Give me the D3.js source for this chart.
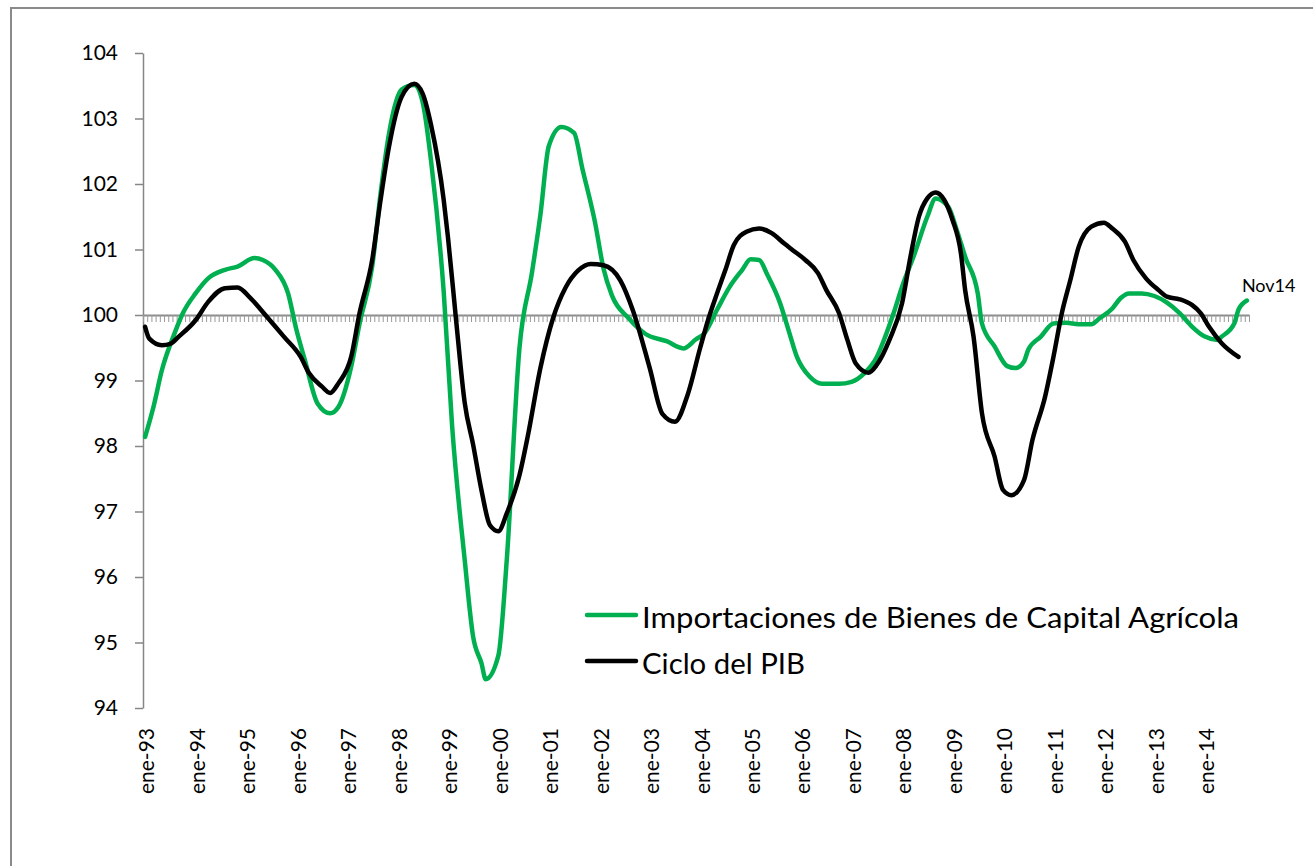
<!DOCTYPE html>
<html>
<head>
<meta charset="utf-8">
<script src="https://cdn.jsdelivr.net/npm/d3@7"></script>
<style>
  html, body { margin: 0; padding: 0; background: #fff; }
  svg { display: block; font-family: Lato, "Open Sans", sans-serif; }
</style>
</head>
<body>
<svg id="chart" width="1313" height="866"></svg>
<script>
// series (month, value)
const importMonths = [
  "1993-01","1993-03","1993-05","1993-08","1993-10","1994-01","1994-04","1994-08","1994-11",
  "1995-03","1995-05","1995-08","1995-11","1996-01","1996-03","1996-06","1996-09","1996-11",
  "1997-02","1997-04","1997-07","1997-09","1997-11","1998-02","1998-05","1998-07","1998-09",
  "1998-12","1999-02","1999-05","1999-07","1999-09","1999-10","2000-01","2000-03","2000-06",
  "2000-09","2000-11","2001-01","2001-04","2001-07","2001-09","2001-12","2002-02","2002-04",
  "2002-08","2002-12","2003-05","2003-09","2003-12","2004-02","2004-05","2004-08","2004-11",
  "2005-01","2005-03","2005-05","2005-08","2005-10","2005-12","2006-03","2006-06","2006-10",
  "2007-01","2007-04","2007-07","2007-09","2007-11","2008-01","2008-04","2008-07","2008-09",
  "2008-12","2009-02","2009-04","2009-07","2009-08","2009-11","2010-02","2010-04","2010-06",
  "2010-07","2010-10","2011-01","2011-04","2011-07","2011-10","2011-12","2012-03","2012-05",
  "2012-07","2012-10","2013-01","2013-04","2013-07","2013-10","2014-01","2014-04","2014-05",
  "2014-08","2014-09","2014-11"
];
const importValues = [
  98.14, 98.60, 99.16, 99.72, 100.03, 100.33, 100.56, 100.69, 100.74,
  100.87, 100.84, 100.69, 100.33, 99.77, 99.31, 98.65, 98.50, 98.60,
  99.21, 99.87, 100.74, 101.86, 102.77, 103.44, 103.51, 103.25, 102.35,
  100.36, 98.31, 96.26, 95.09, 94.68, 94.44, 94.80, 96.26, 99.48,
  100.65, 101.53, 102.58, 102.87, 102.78, 102.23, 101.41, 100.71, 100.30,
  99.95, 99.71, 99.60, 99.49, 99.63, 99.72, 100.08, 100.43, 100.69,
  100.85, 100.84, 100.61, 100.18, 99.77, 99.36, 99.06, 98.95, 98.95,
  98.98, 99.11, 99.36, 99.67, 100.03, 100.43, 100.94, 101.50, 101.78,
  101.65, 101.30, 100.89, 100.33, 99.87, 99.52, 99.22, 99.19, 99.29,
  99.47, 99.67, 99.87, 99.88, 99.86, 99.86, 99.95, 100.10, 100.26,
  100.33, 100.33, 100.29, 100.19, 100.03, 99.82, 99.67, 99.62, 99.67,
  99.87, 100.08, 100.22
];

const pibMonths = [
  "1993-01","1993-02","1993-05","1993-07","1993-09","1994-01","1994-04","1994-08","1994-11",
  "1995-02","1995-06","1995-10","1996-02","1996-04","1996-07","1996-09","1996-11","1997-02",
  "1997-04","1997-07","1997-09","1997-11","1998-02","1998-05","1998-07","1998-09","1998-12",
  "1999-01","1999-03","1999-05","1999-07","1999-09","1999-11","2000-01","2000-03","2000-06",
  "2000-08","2000-11","2001-02","2001-05","2001-08","2001-11","2002-02","2002-06","2002-09",
  "2003-01","2003-04","2003-07","2003-10","2004-01","2004-03","2004-05","2004-07","2004-09",
  "2004-12","2005-03","2005-06","2005-09","2005-11","2006-02","2006-05","2006-07","2006-10",
  "2006-12","2007-02","2007-05","2007-07","2007-10","2008-01","2008-03","2008-05","2008-07",
  "2008-09","2008-11","2009-01","2009-03","2009-04","2009-06","2009-08","2009-11","2010-01",
  "2010-03","2010-06","2010-08","2010-11","2011-01","2011-03","2011-05","2011-07","2011-10",
  "2012-01","2012-03","2012-06","2012-08","2012-11","2013-02","2013-04","2013-07","2013-10",
  "2013-12","2014-02","2014-05","2014-09"
];
const pibValues = [
  99.82, 99.64, 99.54, 99.56, 99.67, 99.92, 100.20, 100.41, 100.42,
  100.26, 99.97, 99.67, 99.36, 99.11, 98.91, 98.81, 98.96, 99.36,
  100.03, 100.84, 101.76, 102.57, 103.33, 103.53, 103.38, 102.90, 101.76,
  101.20, 99.89, 98.66, 98.02, 97.32, 96.79, 96.70, 96.97, 97.55,
  98.15, 99.19, 99.95, 100.42, 100.68, 100.78, 100.76, 100.53, 100.07,
  99.19, 98.49, 98.37, 98.78, 99.50, 99.95, 100.33, 100.69, 101.07,
  101.27, 101.32, 101.25, 101.09, 100.99, 100.84, 100.64, 100.38, 100.03,
  99.62, 99.26, 99.12, 99.24, 99.62, 100.18, 100.89, 101.50, 101.78,
  101.87, 101.76, 101.45, 100.94, 100.38, 99.67, 98.50, 97.84, 97.33,
  97.25, 97.48, 98.09, 98.75, 99.36, 100.03, 100.53, 101.04, 101.35,
  101.41, 101.32, 101.12, 100.84, 100.56, 100.38, 100.28, 100.24, 100.15,
  100.03, 99.82, 99.57, 99.36
];

const seriesNames = ["Importaciones de Bienes de Capital Agrícola", "Ciclo del PIB"];
const seriesColors = ["#00b050", "#000000"];
const yTicks = [94, 95, 96, 97, 98, 99, 100, 101, 102, 103, 104];
const firstMonth = "1993-01";
const lastMonth = "2014-11";
const endLabel = "Nov14";

const parse = d3.timeParse("%Y-%m");
const fmtKey = d3.timeFormat("%Y-%m");
const fmtLabel = (d) => "ene-" + d3.timeFormat("%y")(d);

const svg = d3.select("#chart");

// outer frame
svg.append("rect")
  .attr("x", 11).attr("y", 8)
  .attr("width", 1330).attr("height", 880)
  .attr("fill", "none")
  .attr("stroke", "#8a8a8a")
  .attr("stroke-width", 2);

const plotLeft = 143, plotRight = 1249, plotTop = 53, plotBottom = 708;

// all months on the category axis
const months = d3.timeMonth.range(parse(firstMonth), d3.timeMonth.offset(parse(lastMonth), 1)).map(fmtKey);

const x = d3.scaleBand().domain(months).range([plotLeft, plotRight]).padding(0);
const xc = (m) => x(m) + x.bandwidth() / 2;
const y = d3.scaleLinear().domain([94, 104]).range([plotBottom, plotTop]);

// y axis
const yAxis = svg.append("g")
  .attr("transform", `translate(${plotLeft},0)`)
  .call(d3.axisLeft(y).tickValues(yTicks).tickSize(8).tickPadding(17).tickSizeOuter(0));
yAxis.select(".domain").attr("stroke", "#868686").attr("stroke-width", 1.5);
yAxis.selectAll(".tick line").attr("stroke", "#868686").attr("stroke-width", 1.5);
yAxis.selectAll(".tick text")
  .attr("fill", "#000")
  .style("font-size", "21px")
  .style("font-family", "Lato, 'Open Sans', sans-serif");

// category axis crossing at 100, tick marks between months
const edge = d3.scaleLinear().domain([0, months.length]).range([plotLeft, plotRight]);
const xAxis = svg.append("g")
  .attr("transform", `translate(0,${y(100)})`)
  .call(d3.axisBottom(edge).tickValues(d3.range(months.length + 1)).tickSize(7).tickSizeOuter(0).tickFormat(""));
xAxis.select(".domain").attr("stroke", "#8c8c8c").attr("stroke-width", 2);
xAxis.selectAll(".tick line").attr("stroke", "#9a9a9a").attr("stroke-width", 1);

// year labels at the bottom
const januaries = months.filter((m) => m.endsWith("-01"));
svg.append("g")
  .selectAll("text")
  .data(januaries)
  .enter()
  .append("text")
  .attr("transform", (m) => `translate(${xc(m) + 2},728) rotate(-90)`)
  .attr("text-anchor", "end")
  .attr("dy", "0.35em")
  .style("font-size", "21px")
  .text((m) => fmtLabel(parse(m)));

// lines
const series = [
  { months: importMonths, values: importValues },
  { months: pibMonths, values: pibValues },
];
const line = d3.line()
  .x((d) => xc(d[0]))
  .y((d) => y(d[1]))
  .curve(d3.curveMonotoneX);

series.forEach((s, k) => {
  svg.append("path")
    .datum(d3.zip(s.months, s.values))
    .attr("fill", "none")
    .attr("stroke", seriesColors[k])
    .attr("stroke-width", 4.5)
    .attr("stroke-linejoin", "round")
    .attr("stroke-linecap", "round")
    .attr("d", line);
});

// end label
svg.append("text")
  .attr("x", xc(lastMonth) - 5)
  .attr("y", 292)
  .style("font-size", "18px")
  .text(endLabel);

// legend
const legend = svg.append("g").attr("transform", "translate(587,615)");
const legendWidths = [597, 163];
seriesNames.forEach((name, k) => {
  const g = legend.append("g").attr("transform", `translate(0,${k * 46})`);
  g.append("line")
    .attr("x1", 0).attr("x2", 49)
    .attr("stroke", seriesColors[k])
    .attr("stroke-width", 4.5)
    .attr("stroke-linecap", "round");
  g.append("text")
    .attr("x", 55)
    .attr("y", 13)
    .attr("textLength", legendWidths[k])
    .attr("lengthAdjust", "spacingAndGlyphs")
    .style("font-size", "29px")
    .text(name);
});
</script>
</body>
</html>
